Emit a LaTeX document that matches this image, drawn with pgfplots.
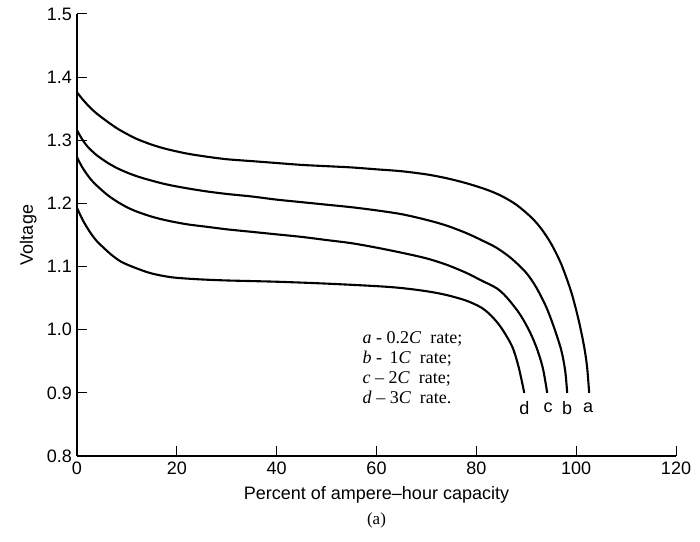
\documentclass[border=0pt]{standalone}
\usepackage{fontspec}
\setmainfont{Liberation Sans}
\newfontfamily\serif{Liberation Serif}
\usepackage{pgfplots}
\pgfplotsset{compat=1.18}

\begin{document}
\fontsize{18}{21}\selectfont
\begin{tikzpicture}[x=1pt,y=1pt]
\begin{axis}[
  scale only axis, width=599pt, height=442pt,
  xmin=0, xmax=120, ymin=0.8, ymax=1.5,
  axis lines=left, axis line style={line width=1.1pt, -},
  tick align=inside, major tick length=10pt,
  tick style={line width=1pt, black},
  xtick={0,20,...,120}, ytick={0.8,0.9,...,1.5},
  yticklabel style={xshift=1pt, /pgf/number format/.cd, fixed, fixed zerofill, precision=1},
  /pgf/number format/assume math mode=true,
  tick label style={font=\fontsize{18}{21}\selectfont},
  xticklabel style={yshift=0pt},
  xlabel={Percent of ampere–hour capacity},
  ylabel={Voltage},
  label style={font=\fontsize{18}{21}\selectfont},
  xlabel style={yshift=1pt},
  ylabel style={yshift=-2pt},
  clip=false,
]
% curve a - 0.2C
\addplot[black, line width=2.1pt, smooth] coordinates {
  (0,1.376) (1,1.366) (2,1.357) (3,1.349) (4,1.342) (6,1.330) (8,1.319)
  (10,1.310) (12,1.302) (15,1.293) (18,1.286) (22,1.279) (26,1.274)
  (30,1.270) (35,1.267) (40,1.264) (45,1.261) (50,1.259) (55,1.257)
  (60,1.254) (65,1.251) (70,1.246) (74,1.240) (78,1.232) (82,1.222)
  (85,1.212) (88,1.198) (91,1.178) (93,1.160) (95,1.136) (97,1.104)
  (99,1.060) (100.5,1.015) (101.6,0.973) (102.2,0.940) (102.6,0.900) };
% curve b - 1C
\addplot[black, line width=2.1pt, smooth] coordinates {
  (0,1.316) (1,1.302) (2,1.291) (3,1.283) (4,1.276) (6,1.265) (8,1.256)
  (10,1.249) (12,1.243) (15,1.236) (18,1.230) (22,1.224) (26,1.219)
  (30,1.215) (35,1.211) (40,1.206) (45,1.202) (50,1.198) (55,1.194)
  (60,1.189) (65,1.183) (70,1.174) (74,1.165) (78,1.153) (81,1.142)
  (84,1.130) (87,1.113) (90,1.090) (92,1.067) (94,1.036) (95.5,1.005)
  (97,0.968) (97.8,0.935) (98.2,0.900) };
% curve c - 2C
\addplot[black, line width=2.1pt, smooth] coordinates {
  (0,1.273) (1,1.258) (2,1.246) (3,1.236) (4,1.228) (6,1.214) (8,1.203)
  (10,1.194) (12,1.187) (15,1.179) (18,1.173) (22,1.167) (26,1.163)
  (30,1.159) (35,1.155) (40,1.151) (45,1.147) (50,1.142) (55,1.137)
  (60,1.130) (65,1.122) (70,1.113) (74,1.103) (78,1.090) (81,1.078)
  (84,1.066) (86,1.052) (88.6,1.026) (90.5,1.000) (92,0.973) (93.3,0.940)
  (94.2,0.900) };
% curve d - 3C
\addplot[black, line width=2.1pt, smooth] coordinates {
  (0,1.193) (1,1.176) (2,1.162) (3,1.150) (4,1.140) (5.3,1.130) (7,1.118)
  (9,1.107) (12,1.097) (15,1.089) (19,1.083) (24,1.080) (30,1.078)
  (40,1.076) (50,1.073) (60,1.069) (65,1.066) (70,1.061) (74,1.055)
  (78,1.046) (81,1.035) (83,1.022) (85,1.003) (87.2,0.973) (88.5,0.940)
  (89.6,0.900) };
\node at (axis cs:89.6,0.876) {d};
\node at (axis cs:94.4,0.876) {c};
\node at (axis cs:98.2,0.876) {b};
\node at (axis cs:102.4,0.876) {a};
\node[anchor=west, align=left, inner sep=0pt, font=\serif\fontsize{18}{20.3}\selectfont]
  at (axis cs:57.2,0.940) {%
  \textit{a} - 0.2\textit{C}\ \ rate;\\
  \textit{b} - \,1\textit{C}\ \ rate;\\
  \textit{c} – 2\textit{C}\ \ rate;\\
  \textit{d} – 3\textit{C}\ \ rate.};
\node[font=\serif\fontsize{17}{18}\selectfont] at (rel axis cs:0.5,0) [yshift=-64pt] {(a)};
\path (rel axis cs:0,0) ++(-77pt,-86pt) coordinate (bl);
\path (rel axis cs:1,1) ++(24pt,14pt) coordinate (tr);
\end{axis}
\path (bl) rectangle (tr);
\end{tikzpicture}
\end{document}
